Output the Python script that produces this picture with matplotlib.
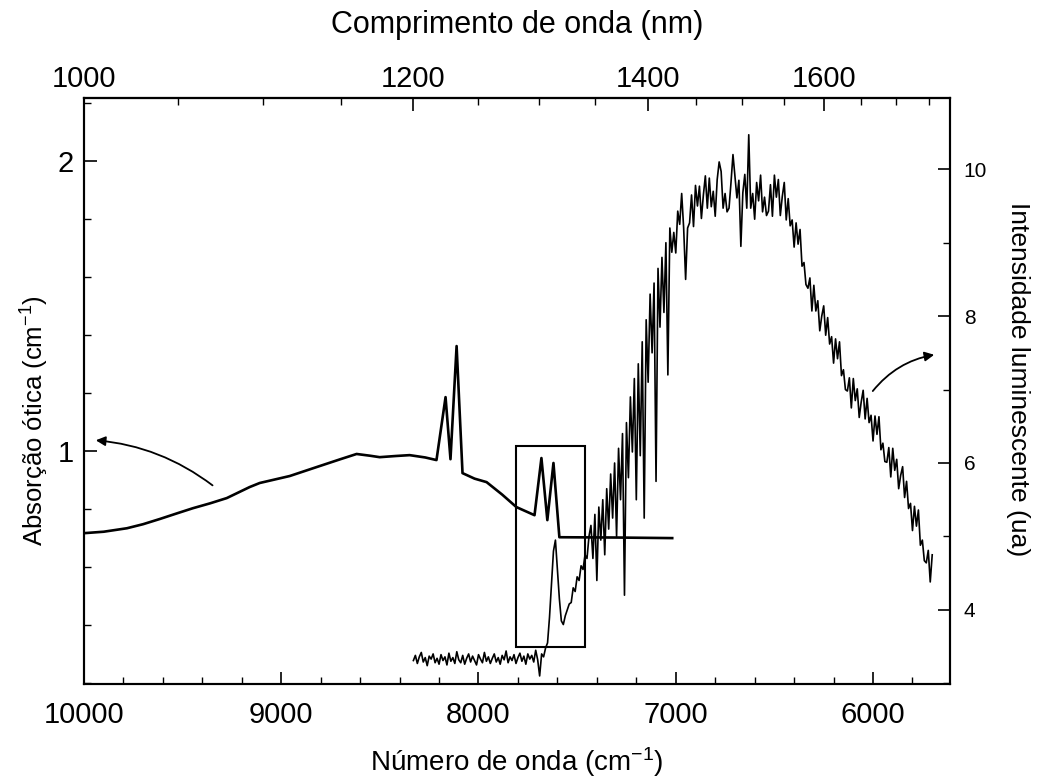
import numpy as np
import matplotlib
matplotlib.use("Agg")
import matplotlib.pyplot as plt
from matplotlib.ticker import FixedLocator, MultipleLocator
from matplotlib.patches import Rectangle

plt.rcParams['font.family'] = ['Liberation Sans', 'DejaVu Sans']
plt.rcParams['mathtext.fontset'] = 'custom'
plt.rcParams['mathtext.rm'] = 'Liberation Sans'
plt.rcParams['mathtext.it'] = 'Liberation Sans:italic'
plt.rcParams['mathtext.bf'] = 'Liberation Sans:bold'

# absorption (left axis)
abs_wn = [10000, 9900, 9782, 9700, 9615, 9530, 9448, 9360, 9276, 9160,
          9109, 8957, 8820, 8700, 8618, 8550, 8501, 8420, 8349, 8270,
          8213, 8167, 8142, 8111, 8081, 8020, 7959, 7880, 7808, 7716,
          7681, 7651, 7620, 7590, 7300, 7018]
abs_val = [0.717, 0.722, 0.734, 0.748, 0.766, 0.785, 0.803, 0.820, 0.838, 0.876,
           0.890, 0.914, 0.945, 0.972, 0.990, 0.984, 0.979, 0.983, 0.986, 0.978,
           0.969, 1.186, 0.972, 1.362, 0.924, 0.905, 0.893, 0.850, 0.807, 0.779,
           0.976, 0.762, 0.959, 0.703, 0.702, 0.700]

# luminescence (right axis), sampled every 10 cm-1 starting at 8330
lum_start = 8330
lum_step = 10
lum_val = [
    3.31, 3.38, 3.27, 3.36, 3.42, 3.29, 3.35, 3.24, 3.37, 3.33,
    3.40, 3.28, 3.34, 3.26, 3.39, 3.31, 3.36, 3.25, 3.41, 3.30,
    3.35, 3.27, 3.43, 3.32, 3.28, 3.38, 3.26, 3.34, 3.40, 3.29,
    3.37, 3.31, 3.25, 3.39, 3.33, 3.28, 3.42, 3.30, 3.36, 3.27,
    3.34, 3.40, 3.29, 3.35, 3.26, 3.38, 3.32, 3.44, 3.28, 3.36,
    3.31, 3.39, 3.27, 3.35, 3.41, 3.30, 3.37, 3.26, 3.40, 3.33,
    3.38, 3.29, 3.45, 3.32, 3.10, 3.40, 3.36, 3.48, 3.55, 3.90,
    4.35, 4.80, 4.95, 4.55, 4.15, 3.85, 3.80, 3.92, 4.00, 4.08,
    4.10, 4.30, 4.25, 4.45, 4.40, 4.60, 4.55, 4.75, 4.70, 5.00,
    5.15, 4.70, 5.30, 4.40, 5.40, 4.95, 5.50, 4.75, 5.65, 5.10,
    5.85, 5.25, 6.00, 5.00, 6.20, 5.50, 6.40, 4.20, 6.55, 5.80,
    6.90, 6.15, 7.15, 5.50, 7.35, 6.10, 7.65, 5.25, 7.95, 7.10,
    8.30, 7.50, 8.45, 5.75, 8.65, 7.85, 8.80, 8.05, 9.00, 7.20,
    9.20, 8.87, 9.14, 8.86, 9.43, 9.25, 9.67, 9.20, 8.50, 9.20,
    9.27, 9.65, 9.22, 9.78, 9.50, 9.77, 9.33, 9.65, 9.91, 9.47,
    9.88, 9.49, 9.70, 9.36, 9.86, 10.10, 9.97, 9.47, 9.67, 9.42,
    9.47, 9.82, 10.20, 9.91, 9.61, 9.85, 8.95, 9.68, 9.93, 9.47,
    10.47, 9.47, 9.67, 9.32, 9.82, 9.57, 9.92, 9.42, 9.62, 9.37,
    9.43, 9.79, 9.36, 9.92, 9.62, 9.86, 9.37, 9.63, 9.82, 9.31,
    9.60, 9.23, 9.31, 8.94, 9.27, 8.98, 9.18, 8.68, 8.73, 8.43,
    8.38, 8.52, 8.07, 8.42, 8.07, 8.21, 7.80, 8.00, 8.14, 7.74,
    7.98, 7.62, 7.72, 7.36, 7.69, 7.42, 7.65, 7.19, 7.27, 7.00,
    6.98, 7.16, 6.75, 7.15, 6.85, 7.01, 6.62, 6.83, 6.99, 6.60,
    6.88, 6.55, 6.65, 6.30, 6.64, 6.39, 6.63, 6.18, 6.27, 6.02,
    6.01, 6.21, 5.81, 6.20, 5.90, 6.05, 5.65, 5.83, 5.95, 5.53,
    5.75, 5.38, 5.45, 5.08, 5.41, 5.14, 5.36, 4.88, 4.95, 4.67,
    4.64, 4.81, 4.38, 4.75]
lum_wn = lum_start - lum_step * np.arange(len(lum_val))

# zoom box (left-axis coords)
box_x = [7808, 7458]
box_y = [0.324, 1.017]

top_ticks = [1000, 1200, 1400, 1600]

fig = plt.figure(figsize=(10.43, 7.83), dpi=100)
ax = fig.add_axes([0.0805, 0.1264, 0.8303, 0.7484])
ax2 = ax.twinx()

ax.plot(abs_wn, abs_val, color='black', lw=1.9)
ax2.plot(lum_wn, lum_val, color='black', lw=1.2)

ax.add_patch(Rectangle((box_x[0], box_y[0]), box_x[1] - box_x[0], box_y[1] - box_y[0],
                       fill=False, edgecolor='black', lw=1.5))

ax.annotate('', xy=(9954, 1.038), xytext=(9337, 0.876),
            arrowprops=dict(arrowstyle='-|>', color='black', lw=1.3,
                            mutation_scale=14, connectionstyle='arc3,rad=0.15'))
ax2.annotate('', xy=(5676, 7.48), xytext=(6010, 6.95),
             arrowprops=dict(arrowstyle='-|>', color='black', lw=1.3,
                             mutation_scale=14, connectionstyle='arc3,rad=-0.2'))

ax.set_xlim(10000, 5610)
ax.set_ylim(0.197, 2.217)
ax2.set_ylim(2.99, 10.97)

ax.xaxis.set_major_locator(MultipleLocator(1000))
ax.xaxis.set_minor_locator(MultipleLocator(200))
ax.yaxis.set_major_locator(FixedLocator([1, 2]))
ax.yaxis.set_minor_locator(MultipleLocator(0.2))
ax2.yaxis.set_major_locator(FixedLocator([4, 6, 8, 10]))
ax2.yaxis.set_minor_locator(MultipleLocator(1))

def wl(x):
    x = np.asarray(x, dtype=float)
    return 1e7 / np.where(x == 0, 1e-9, x)

top = ax.secondary_xaxis('top', functions=(wl, wl))
top.set_xticks(top_ticks)
top.xaxis.set_minor_locator(FixedLocator(np.arange(1000, 1800, 50)))
top.tick_params(which='major', direction='in', length=9, width=1.2, labelsize=21, pad=3.5)
top.tick_params(which='minor', direction='in', length=5, width=1.0)
top.set_xlabel('Comprimento de onda (nm)', fontsize=22, labelpad=23)

ax.tick_params(axis='x', which='major', direction='in', length=9, width=1.2, labelsize=21, pad=12)
ax.tick_params(axis='x', which='minor', direction='in', length=5, width=1.0)
ax.tick_params(axis='y', which='major', direction='in', length=9, width=1.2, labelsize=21, pad=7)
ax.tick_params(axis='y', which='minor', direction='in', length=5, width=1.0)
ax2.tick_params(axis='y', which='major', direction='in', length=9, width=1.2, labelsize=15, pad=10)
ax2.tick_params(axis='y', which='minor', direction='in', length=5, width=1.0)

for a in (ax, ax2, top):
    for s in a.spines.values():
        s.set_linewidth(1.5)

ax.set_xlabel('Número de onda (cm$^{-1}$)', fontsize=20, labelpad=12)
ax.set_ylabel('Absorção ótica (cm$^{-1}$)', fontsize=18.5)
ax.yaxis.set_label_coords(-0.038, 0.45)
ax2.set_ylabel('Intensidade luminescente (ua)', fontsize=19, rotation=270)
ax2.yaxis.set_label_coords(1.092, 0.52)

fig.savefig('out.png', dpi=100)
